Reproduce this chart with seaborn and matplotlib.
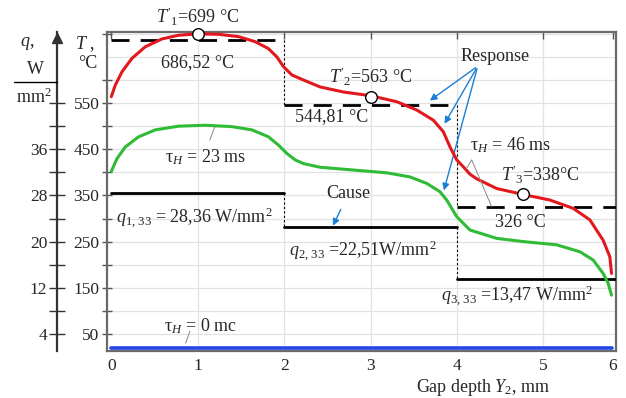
import matplotlib
matplotlib.use("Agg")
import matplotlib.pyplot as plt
import seaborn as sns
import pandas as pd
import numpy as np

# ---------------- data ----------------
red_x = [0.00, 0.046, 0.124, 0.239, 0.393, 0.586, 0.778, 1.00, 1.24, 1.472, 1.665, 1.818, 1.916,
         1.992, 2.089, 2.223, 2.416, 2.686, 3.00, 3.303, 3.534, 3.726, 3.842, 3.919, 3.997,
         4.073, 4.15, 4.228, 4.459, 4.766, 5.075, 5.345, 5.538, 5.691, 5.769, 5.788]
red_T = [564, 589, 618, 647, 672, 689, 697, 700, 699, 694, 683, 668, 650,
         629, 611, 600, 585, 574, 566, 553, 535, 513, 488, 455, 427,
         412, 396, 386, 365, 352, 340, 322, 297, 253, 217, 181]

green_x = [0.00, 0.066, 0.162, 0.316, 0.509, 0.778, 1.087, 1.395, 1.627, 1.818, 1.934, 2.031,
           2.127, 2.223, 2.416, 2.801, 3.187, 3.457, 3.65, 3.803, 3.881, 3.997, 4.15, 4.459,
           4.766, 5.153, 5.422, 5.576, 5.691, 5.749, 5.788]
green_T = [402, 430, 455, 477, 492, 500, 502, 499, 492, 477, 459, 441,
           427, 419, 411, 405, 399, 390, 376, 358, 340, 304, 275, 257,
           250, 243, 228, 210, 181, 160, 134]

blue_x = [0.00, 5.79]
blue_T = [20, 20]

zone_edges = [0, 2, 4, 5.84]
T_mean = [686.52, 544.81, 326.0]          # response (dashed)
q_cause = [28.36, 22.51, 13.47]            # cause, W/mm^2
q_to_T = 12.5                              # T = 12.5 * q on the shared scale

T_peak_x = [1.0, 3.0, 4.76]
T_peak = [699, 563, 353]

x_ticks = [0, 1, 2, 3, 4, 5, 5.8]
x_ticklabels = ["0", "1", "2", "3", "4", "5", "6"]
T_major = [50, 150, 250, 350, 450, 550]
q_major = [4, 12, 20, 28, 36]

# ---------------- style ----------------
sns.set_style("white")
plt.rcParams["font.family"] = ["Liberation Serif", "DejaVu Serif"]
plt.rcParams["mathtext.fontset"] = "custom"
plt.rcParams["mathtext.rm"] = "Liberation Serif"
plt.rcParams["mathtext.it"] = "Liberation Serif:italic"
plt.rcParams["font.size"] = 11

fig = plt.figure(figsize=(6.26, 3.98), dpi=100)
L, R, B, Tp = 107 / 626, 616 / 626, 1 - 351 / 398, 1 - 32 / 398
ax = fig.add_axes([L, B, R - L, Tp - B])

df_red = pd.DataFrame({"x": red_x, "T": red_T})
df_green = pd.DataFrame({"x": green_x, "T": green_T})
df_blue = pd.DataFrame({"x": blue_x, "T": blue_T})

RED, GREEN, BLUE = "#e3181e", "#2fbb35", "#2347e6"
ARROW = "#1a7fd6"

sns.lineplot(data=df_blue, x="x", y="T", color=BLUE, lw=2.6, ax=ax, zorder=4, sort=False)
sns.lineplot(data=df_green, x="x", y="T", color=GREEN, lw=2.2, ax=ax, zorder=4, sort=False)
sns.lineplot(data=df_red, x="x", y="T", color=RED, lw=2.2, ax=ax, zorder=5, sort=False)
for ln in ax.lines:
    ln.set_solid_joinstyle("round")
    ln.set_solid_capstyle("round")

# response dashed levels and cause step lines
for i in range(3):
    ax.plot([zone_edges[i], zone_edges[i + 1]], [T_mean[i], T_mean[i]], color="black",
            lw=2.0, ls=(0, (6.5, 4)), zorder=3)
    ax.plot([zone_edges[i], zone_edges[i + 1]], [q_cause[i] * q_to_T] * 2, color="black",
            lw=2.0, zorder=3)
for i in range(2):
    xe = zone_edges[i + 1]
    ax.plot([xe, xe], [T_mean[i], T_mean[i + 1]], color="black", lw=0.8, ls=(0, (2, 2)), zorder=3)
    ax.plot([xe, xe], [q_cause[i] * q_to_T, q_cause[i + 1] * q_to_T], color="black", lw=0.8,
            ls=(0, (2, 2)), zorder=3)

ax.scatter(T_peak_x, T_peak, s=70, facecolor="white", edgecolor="black", lw=1.0, zorder=7,
           clip_on=False)

ax.set_xlim(-0.05, 5.84)
ax.set_ylim(13, 704)
ax.set_xticks(x_ticks)
ax.set_xticklabels(x_ticklabels)
ax.set_yticks(T_major)
ax.set_yticks(np.arange(100, 701, 100), minor=True)
ax.set_xlabel("")
ax.set_ylabel("")

# grid
for gx in [1, 2, 3, 4, 5]:
    ax.axvline(gx, color="#e2e2e2", lw=0.9, zorder=0)
for gy in np.arange(50, 701, 50):
    ax.axhline(gy, color="#e2e2e2", lw=0.9, zorder=0)

for s in ax.spines.values():
    s.set_color("#6a6a6a")
    s.set_linewidth(1.6)
ax.tick_params(axis="y", which="both", direction="inout", length=7, width=1.0, color="#555555",
               right=True, labelsize=12.5, pad=2)
ax.tick_params(axis="x", which="both", direction="in", length=5, width=1.0, color="#555555",
               top=True, labelsize=12.5, pad=5)

# q axis
ax2 = ax.twinx()
ax2.set_ylim(13 / q_to_T, 704 / q_to_T)
ax2.spines["left"].set_position(("axes", (57 - 107) / 509))
ax2.spines["left"].set_visible(True)
ax2.spines["left"].set_color("#333333")
ax2.spines["left"].set_linewidth(1.6)
for k in ["right", "top", "bottom"]:
    ax2.spines[k].set_visible(False)
ax2.yaxis.set_ticks_position("left")
ax2.yaxis.set_label_position("left")
ax2.set_yticks(q_major)
ax2.set_yticks([8, 16, 24, 32, 40, 44], minor=True)
ax2.tick_params(axis="y", which="both", direction="inout", length=12, width=1.0, color="#333333",
                labelsize=12.5, pad=1)
ax2.plot([(57 - 107) / 509], [0.98], marker="^", ms=7, color="#333333",
         transform=ax.transAxes, clip_on=False)

# axis labels (left)
fig.text(27 / 626, 1 - 44 / 398, "$q$,", fontsize=13, ha="center", va="center")
fig.text(35 / 626, 1 - 70 / 398, "W", fontsize=13, ha="center", va="center")
fig.add_artist(plt.Line2D([14 / 626, 57 / 626], [1 - 82 / 398] * 2, color="black", lw=1.0))
fig.text(34 / 626, 1 - 97 / 398, "mm$^2$", fontsize=13, ha="center", va="center")
fig.text(85 / 626, 1 - 44 / 398, "$T$ ,", fontsize=13, ha="center", va="center")
fig.text(88 / 626, 1 - 64 / 398, "°C", fontsize=13, ha="center", va="center")
fig.text(483 / 626, 1 - 388 / 398, "Gap depth $Y_2$, mm", fontsize=13, ha="center", va="center")

# annotations
fs = 13
ax.text(1.0, 737, "$T'_1$=699 °C", fontsize=fs, ha="center", va="center", clip_on=False)
ax.text(1.0, 637, "686,52 °C", fontsize=fs, ha="center", va="center")
ax.text(3.0, 606, "$T'_2$=563 °C", fontsize=fs, ha="center", va="center")
ax.text(2.55, 520, "544,81 °C", fontsize=fs, ha="center", va="center")
ax.text(4.44, 652, "Response", fontsize=fs, ha="center", va="center")
for hx, hy in [(3.66, 552), (3.84, 500), (3.84, 355)]:
    ax.annotate("", xy=(hx, hy), xytext=(4.24, 630),
                arrowprops=dict(arrowstyle="-|>", color=ARROW, lw=1.0, mutation_scale=10))
ax.text(4.62, 459, r"τ$_H$ = 46 ms", fontsize=fs, ha="center", va="center")
ax.plot([4.11, 4.17, 4.40], [408, 427, 326], color="#888888", lw=0.7, zorder=6)
ax.text(4.96, 394, "$T'_3$=338°C", fontsize=fs, ha="center", va="center")
ax.text(4.73, 292, "326 °C", fontsize=fs, ha="center", va="center")
ax.text(1.09, 433, r"τ$_H$ = 23 ms", fontsize=fs, ha="center", va="center")
ax.plot([1.2, 1.14], [500, 470], color="#888888", lw=0.7, zorder=6)
ax.text(2.74, 355, "Cause", fontsize=fs, ha="center", va="center")
ax.annotate("", xy=(2.55, 279), xytext=(2.67, 325),
            arrowprops=dict(arrowstyle="-|>", color=ARROW, lw=1.0, mutation_scale=10))
ax.text(0.05, 301, r"$q_{1,\,33}$ = 28,36 W/mm$^2$", fontsize=fs, ha="left", va="center")
ax.text(2.06, 230, r"$q_{2,\,33}$ =22,51W/mm$^2$", fontsize=fs, ha="left", va="center")
ax.text(3.82, 132, r"$q_{3,\,33}$ =13,47 W/mm$^2$", fontsize=fs, ha="left", va="center")
ax.text(1.03, 66, r"τ$_H$ = 0 mc", fontsize=fs, ha="center", va="center")
ax.plot([0.91, 0.86], [56, 30], color="#888888", lw=0.7, zorder=6)

fig.savefig("out.png", dpi=100)
